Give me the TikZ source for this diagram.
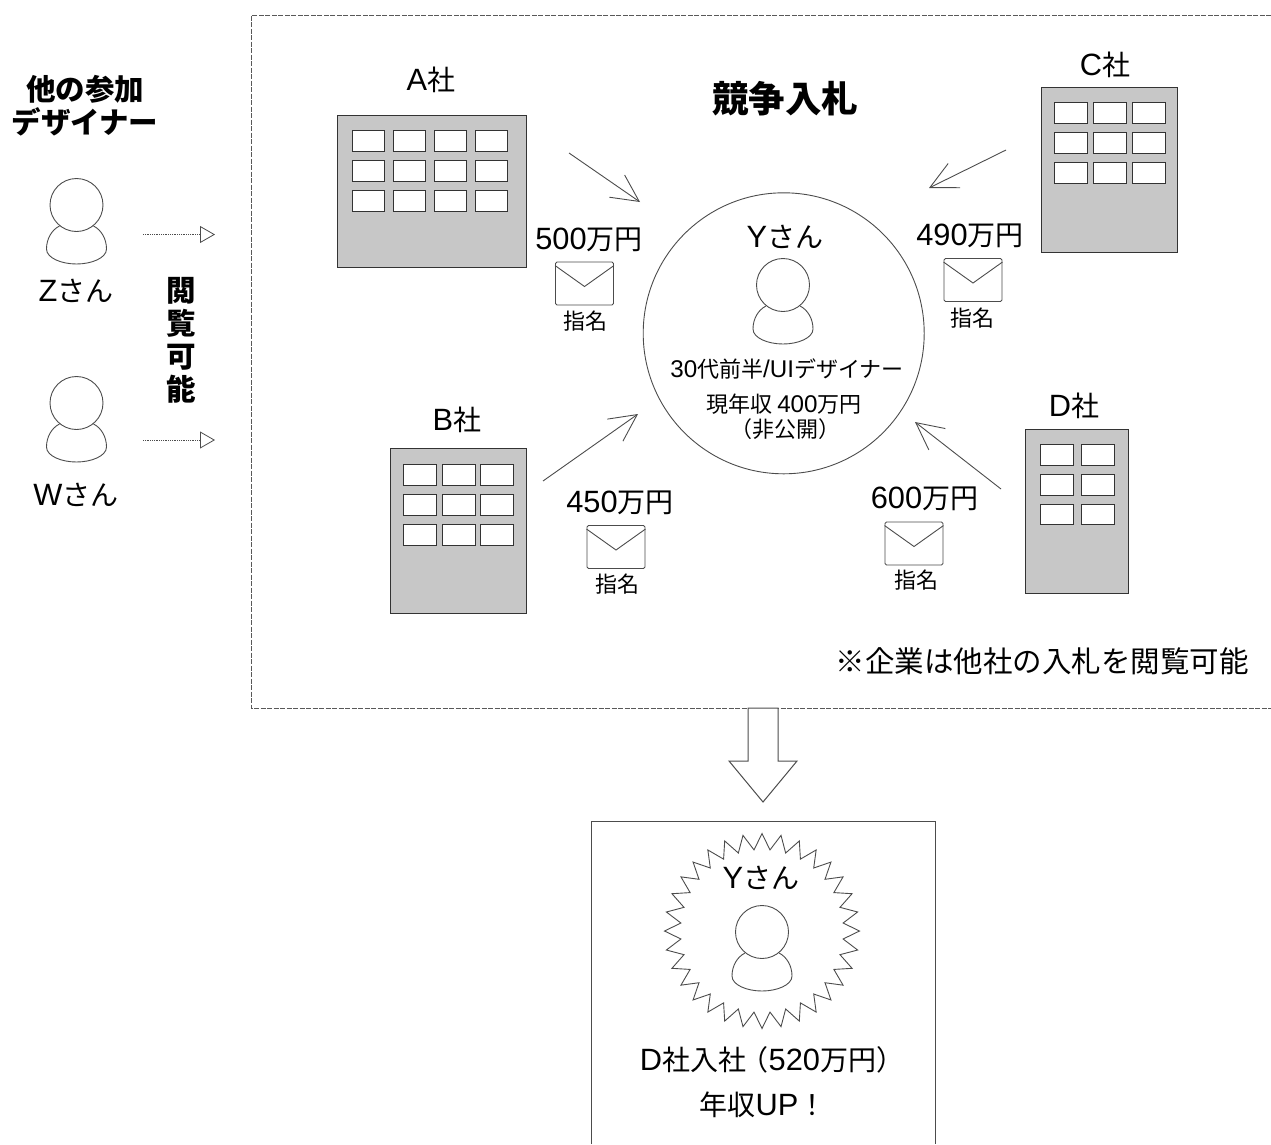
\documentclass[tikz,border=0pt]{standalone}
\usepackage{fontspec}
\setmainfont{Noto Sans CJK JP}
\newfontfamily\latinfont[Scale=1.1]{Liberation Sans}
\usetikzlibrary{arrows.meta,shapes.geometric,calc}
\newcommand{\latn}[1]{{\latinfont #1}}
\definecolor{inkline}{gray}{0.3}
\definecolor{buildfill}{gray}{0.78}
\tikzset{
	iconline/.style={draw=inkline, line width=0.9pt},
	headcircle/.style={iconline, circle, fill=white, inner sep=0pt, minimum size=53pt},
	building/.style={draw=black!80, line width=1pt, fill=buildfill, inner sep=0pt},
	windowbox/.style={draw=black!80, line width=0.9pt, fill=white},
	envbox/.style={iconline, rounded corners=1.5pt, fill=white, inner sep=0pt, minimum width=58pt, minimum height=43pt},
	barbarrow/.style={draw=inkline, line width=0.9pt, -{Straight Barb[length=27pt,width=27pt]}},
	peekarrow/.style={draw=inkline, line width=0.8pt, densely dotted, -{Triangle[open,length=15pt,width=17pt]}},
	biglabel/.style={inner sep=0pt, font=\fontsize{28}{30}\selectfont},
	smalllabel/.style={inner sep=0pt, font=\fontsize{22}{24}\selectfont},
	headlabel/.style={inner sep=0pt, font=\fontsize{29.5}{33}\selectfont\bfseries},
}
\newcommand{\personicon}[3]{
	\draw [ iconline ] (#2-17,#3+21) .. controls (#2-25,#3+25) and (#2-30,#3+34) .. (#2-30,#3+44)
		.. controls (#2-30,#3+53) and (#2-15,#3+59) .. (#2,#3+59)
		.. controls (#2+15,#3+59) and (#2+30,#3+53) .. (#2+30,#3+44)
		.. controls (#2+30,#3+34) and (#2+25,#3+25) .. (#2+17,#3+21);
	\node [ headcircle ] (#1) at (#2,#3) {};
}
\newcommand{\mailicon}[3]{
	\node [ envbox ] (#1) at (#2,#3) {};
	\draw [ iconline ] ($(#1.north west)+(0,4)$) -- (#2,#3+3) -- ($(#1.north east)+(0,4)$);
}
\begin{document}
\begin{tikzpicture}[x=1pt,y=-1pt]
	\useasboundingbox (0,0) rectangle (1271,1144);

	\draw [ dash pattern=on 5pt off 1.5pt, draw=black!65, line width=0.9pt ] (1271,15)--(251,15)--(251,708)--(1271,708);
	\draw [ draw=inkline, line width=1pt, fill=white ] (748,708)--(748,761)--(729,761)--(763,802)--(797,761)--(778,761)--(778,708)--cycle;
	\draw [ draw=inkline, line width=1pt ] (591,1144)--(591,821)--(935,821)--(935,1144);

	\node [ headlabel ] (othersOne) at (85,89) {他の参加};
	\node [ headlabel ] (othersTwo) at (85,122) {デザイナー};
	\node [ headlabel, align=center ] (peekLabel) at (181,340) {閲\\覧\\可\\能};
	\personicon{headZ}{76.5}{205}
	\personicon{headW}{76.5}{403}
	\node [ biglabel ] (nameZ) at (76,291) {\latn{Z}さん};
	\node [ biglabel ] (nameW) at (76,495) {\latn{W}さん};

	\coordinate (peekZfrom) at (143,234.5);
	\coordinate (peekZto) at (215,234.5);
	\coordinate (peekWfrom) at (143,440);
	\coordinate (peekWto) at (215,440);
	\draw [ peekarrow ] (peekZfrom)--(peekZto);
	\draw [ peekarrow ] (peekWfrom)--(peekWto);

	\node [ inner sep=0pt, font=\fontsize{36.5}{40}\selectfont\bfseries ] (bidTitle) at (785,99) {競争入札};

	\node [ building, minimum width=189pt, minimum height=152pt ] (bldA) at (431.5,191) {};
	\draw [ windowbox ] (352,130) rectangle (384,151) (393,130) rectangle (425,151) (434,130) rectangle (466,151) (475,130) rectangle (507,151);
	\draw [ windowbox ] (352,160) rectangle (384,181) (393,160) rectangle (425,181) (434,160) rectangle (466,181) (475,160) rectangle (507,181);
	\draw [ windowbox ] (352,190) rectangle (384,211) (393,190) rectangle (425,211) (434,190) rectangle (466,211) (475,190) rectangle (507,211);
	\node [ biglabel ] (nameA) at (431,80) {\latn{A}社};

	\node [ building, minimum width=136pt, minimum height=165pt ] (bldB) at (458,531) {};
	\draw [ windowbox ] (403,464) rectangle (436,485) (442,464) rectangle (475,485) (480,464) rectangle (513,485);
	\draw [ windowbox ] (403,494) rectangle (436,515) (442,494) rectangle (475,515) (480,494) rectangle (513,515);
	\draw [ windowbox ] (403,524) rectangle (436,545) (442,524) rectangle (475,545) (480,524) rectangle (513,545);
	\node [ biglabel ] (nameB) at (457,420) {\latn{B}社};

	\node [ building, minimum width=136pt, minimum height=165pt ] (bldC) at (1109,169.5) {};
	\draw [ windowbox ] (1054,102) rectangle (1087,123) (1093,102) rectangle (1126,123) (1132,102) rectangle (1165,123);
	\draw [ windowbox ] (1054,132) rectangle (1087,153) (1093,132) rectangle (1126,153) (1132,132) rectangle (1165,153);
	\draw [ windowbox ] (1054,162) rectangle (1087,183) (1093,162) rectangle (1126,183) (1132,162) rectangle (1165,183);
	\node [ biglabel ] (nameC) at (1105,65) {\latn{C}社};

	\node [ building, minimum width=103pt, minimum height=164pt ] (bldD) at (1076.5,511) {};
	\draw [ windowbox ] (1040,444) rectangle (1073,465) (1081,444) rectangle (1114,465);
	\draw [ windowbox ] (1040,474) rectangle (1073,495) (1081,474) rectangle (1114,495);
	\draw [ windowbox ] (1040,504) rectangle (1073,524) (1081,504) rectangle (1114,524);
	\node [ biglabel ] (nameD) at (1074,406) {\latn{D}社};

	\node [ circle, iconline, inner sep=0pt, minimum size=281pt ] (bidCircle) at (783.7,333.3) {};
	\node [ biglabel ] (nameY) at (785,237) {\latn{Y}さん};
	\personicon{headY}{783}{285}
	\node [ smalllabel ] (jobY) at (787,369) {\latn{30}代前半\latn{/UI}デザイナー};
	\node [ smalllabel ] (payY) at (784,404) {現年収 \latn{400}万円};
	\node [ smalllabel ] (hideY) at (785,429) {（非公開）};

	\coordinate (fromA) at (569,153);
	\coordinate (toA) at (640,202);
	\coordinate (fromB) at (543,481);
	\coordinate (toB) at (638,414);
	\coordinate (fromC) at (1006,150);
	\coordinate (toC) at (929,188);
	\coordinate (fromD) at (1001,489);
	\coordinate (toD) at (915,422);
	\draw [ barbarrow ] (fromA)--(toA);
	\draw [ barbarrow ] (fromB)--(toB);
	\draw [ barbarrow ] (fromC)--(toC);
	\draw [ barbarrow ] (fromD)--(toD);

	\node [ biglabel ] (bidA) at (589,240) {\latn{500}万円};
	\node [ biglabel ] (bidC) at (970,236) {\latn{490}万円};
	\node [ biglabel ] (bidB) at (620,503) {\latn{450}万円};
	\node [ biglabel ] (bidD) at (924.5,499) {\latn{600}万円};
	\mailicon{mailA}{584.5}{283.5}
	\mailicon{mailC}{973}{280}
	\mailicon{mailB}{616}{547}
	\mailicon{mailD}{914}{543.5}
	\node [ smalllabel ] (markA) at (585,321) {指名};
	\node [ smalllabel ] (markC) at (972,318) {指名};
	\node [ smalllabel ] (markB) at (617,584) {指名};
	\node [ smalllabel ] (markD) at (916,580) {指名};

	\node [ biglabel, font=\fontsize{29.5}{33}\selectfont ] (noteBid) at (1042,661) {※企業は他社の入札を閲覧可能};

	\node [ star, star points=32, star point height=16pt, minimum size=195pt, inner sep=0pt, iconline ] (burst) at (762,931) {};
	\node [ biglabel ] (nameYtwo) at (761,878) {\latn{Y}さん};
	\personicon{headYtwo}{762}{932}
	\node [ biglabel ] (hiredD) at (772,1060) {\latn{D}社入社\kern-.2em（\latn{520}万円）};
	\node [ biglabel ] (payUp) at (763,1105) {年収\latn{UP}！};
\end{tikzpicture}
\end{document}
